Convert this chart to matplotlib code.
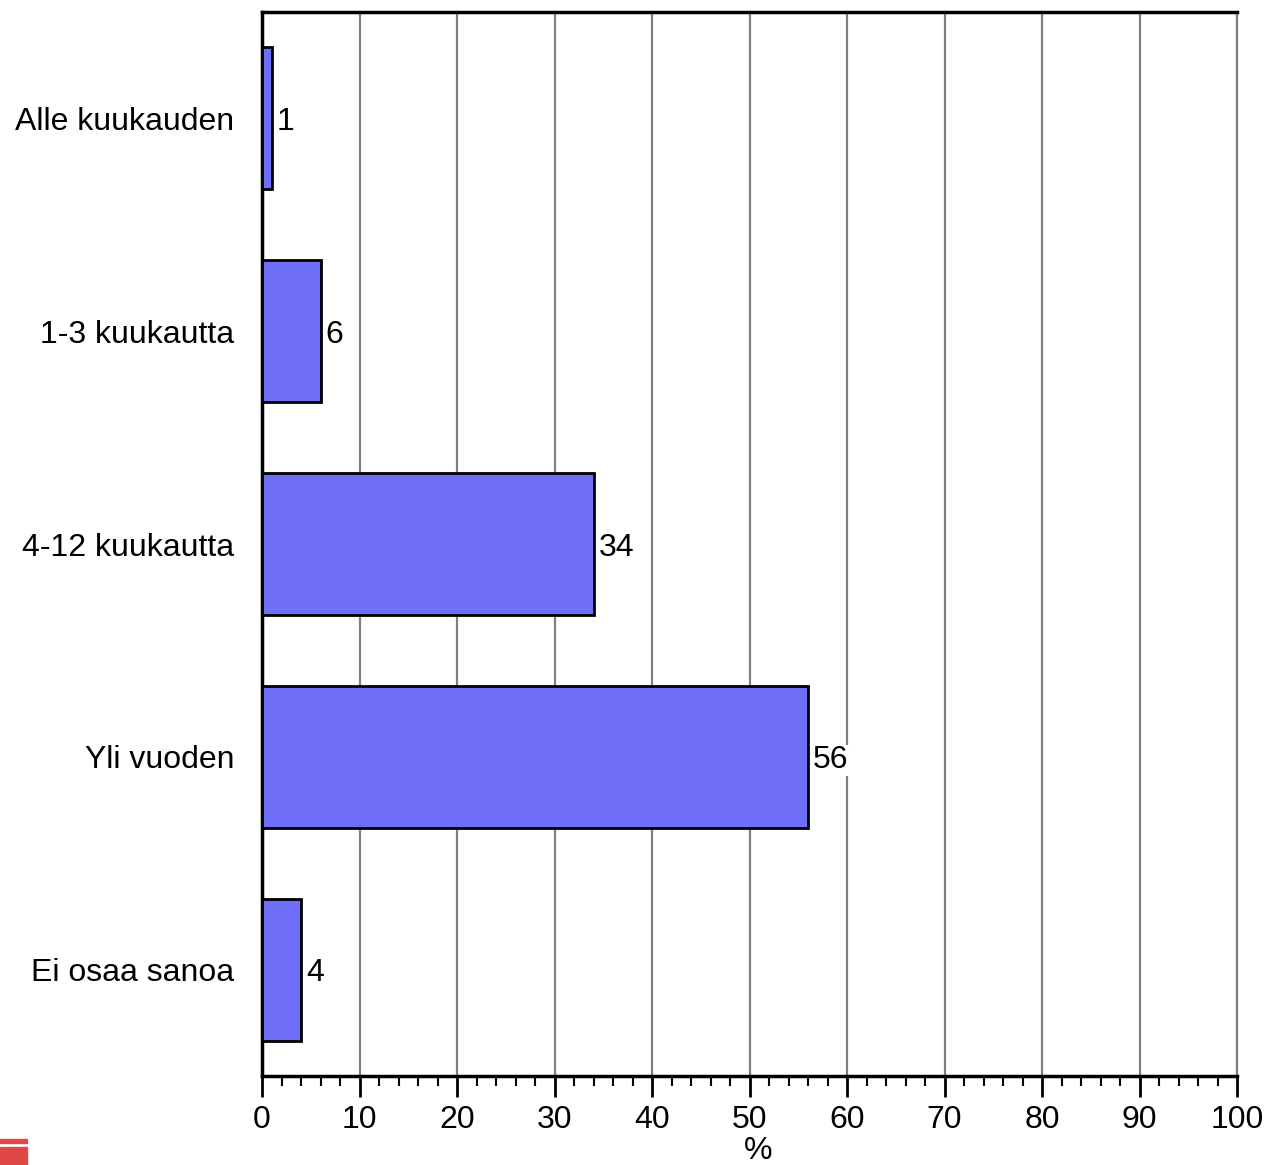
import matplotlib
matplotlib.use("Agg")
from matplotlib import pyplot as plt
from matplotlib.patches import Rectangle
from matplotlib.ticker import MultipleLocator

plt.rcParams['font.family'] = ['Liberation Sans', 'DejaVu Sans']

categories = ["Alle kuukauden", "1-3 kuukautta", "4-12 kuukautta", "Yli vuoden", "Ei osaa sanoa"]
values = [1, 6, 34, 56, 4]
xticks = list(range(0, 101, 10))

fig = plt.figure(figsize=(12.68, 11.65), dpi=100)
ax = fig.add_axes([262 / 1268, 1 - 1076 / 1165, 975 / 1268, 1064 / 1165])

ypos = list(range(len(categories)))
ax.barh(ypos, values, height=0.667, color='#6e6ef8', edgecolor='black',
        linewidth=2, zorder=3)

for y, v in zip(ypos, values):
    ax.text(v + 0.5, y, str(v), va='center_baseline', ha='left', fontsize=23,
            zorder=4, bbox=dict(facecolor='white', edgecolor='none', pad=0.5))

ax.set_xlim(0, 100)
ax.set_ylim(len(categories) - 0.5, -0.5)
ax.set_xticks(xticks)
ax.xaxis.set_minor_locator(MultipleLocator(2))
ax.set_yticks(ypos)
ax.set_yticklabels(categories, fontsize=23)
for lbl in ax.get_yticklabels():
    lbl.set_verticalalignment('center_baseline')
ax.tick_params(axis='y', length=0, pad=20)
ax.tick_params(axis='x', which='major', direction='out', length=15, width=2,
               labelsize=23, pad=6)
ax.tick_params(axis='x', which='minor', direction='out', length=7, width=1.5)
ax.set_xlabel('%', fontsize=23)
ax.xaxis.set_label_coords(0.509, -0.056)

ax.grid(axis='x', color='#808080', linewidth=1.6, zorder=0)
ax.set_axisbelow(True)
for s in ['left', 'bottom', 'top']:
    ax.spines[s].set_linewidth(2.5)
    ax.spines[s].set_color('black')
ax.spines['right'].set_color('#808080')
ax.spines['right'].set_linewidth(1.6)

# small red marks bottom-left
fig.patches.append(Rectangle((0, 1 - 1143 / 1165), 27 / 1268, 4 / 1165,
                             transform=fig.transFigure, color='#e04848'))
fig.patches.append(Rectangle((0, 0), 27 / 1268, 18 / 1165,
                             transform=fig.transFigure, color='#e04848'))

fig.savefig('out.png', dpi=100)
